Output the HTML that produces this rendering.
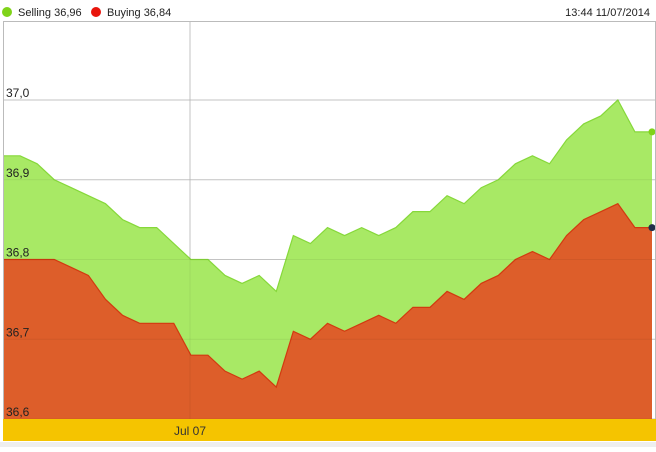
<!DOCTYPE html>
<html><head><meta charset="utf-8"><style>
body{margin:0;background:#fff;font-family:"Liberation Sans",sans-serif;}
svg text{font-family:"Liberation Sans",sans-serif;}
</style></head><body>
<svg id="chart" width="656" height="447" viewBox="0 0 656 447" xmlns="http://www.w3.org/2000/svg">
<rect x="0" y="0" width="656" height="447" fill="#fff"/>
<g>
<circle cx="7" cy="12" r="5" fill="#7fd319"/>
<text x="18" y="16" font-size="11" fill="#222">Selling 36,96</text>
<circle cx="96" cy="12" r="5" fill="#e8150c"/>
<text x="107" y="16" font-size="11" fill="#222">Buying 36,84</text>
<text x="650" y="16" font-size="11" fill="#222" text-anchor="end">13:44 11/07/2014</text>
</g>
<g id="grid"></g>
<g id="series"></g>
<g id="overgrid"></g>
<g id="labels"></g>
<rect x="3.5" y="21.5" width="652" height="398" fill="none" stroke="#bbb"/>
<rect x="3" y="419" width="653" height="22" fill="#f5c400"/>
<rect x="0" y="442" width="656" height="5" fill="#eee"/>
<text x="190" y="435" font-size="12" fill="#333" text-anchor="middle">Jul 07</text>
</svg>
<script>
const selling=[36.93,36.93,36.92,36.90,36.89,36.88,36.87,36.85,36.84,36.84,36.82,36.80,36.80,36.78,36.77,36.78,36.76,36.83,36.82,36.84,36.83,36.84,36.83,36.84,36.86,36.86,36.88,36.87,36.89,36.90,36.92,36.93,36.92,36.95,36.97,36.98,37.00,36.96,36.96];
const buying=[36.80,36.80,36.80,36.80,36.79,36.78,36.75,36.73,36.72,36.72,36.72,36.68,36.68,36.66,36.65,36.66,36.64,36.71,36.70,36.72,36.71,36.72,36.73,36.72,36.74,36.74,36.76,36.75,36.77,36.78,36.80,36.81,36.80,36.83,36.85,36.86,36.87,36.84,36.84];
const yTicks=[37.0,36.9,36.8,36.7,36.6];
const yTickLabels=["37,0","36,9","36,8","36,7","36,6"];
const xTickIndex=11;
const NS="http://www.w3.org/2000/svg";
const x0=3,x1=652,yTop=100,vTop=37.0,pxPer=797.5,yBase=419;
const xs=i=>x0+(x1-x0)*i/(selling.length-1);
const ys=v=>yTop+(vTop-v)*pxPer;
function mk(t,a,p){const e=document.createElementNS(NS,t);for(const k in a)e.setAttribute(k,a[k]);document.getElementById(p).appendChild(e);return e;}
yTicks.forEach((v,i)=>{
 const l=mk('line',{x1:3,x2:656,y1:ys(v),y2:ys(v),stroke:'#d0d0d0','stroke-width':1},'grid');
 
 
 const l2=mk('line',{x1:3,x2:656,y1:ys(v),y2:ys(v),stroke:'rgba(0,0,0,0.06)','stroke-width':1},'overgrid');
 
 
 const t=mk('text',{x:6,y:ys(v)-3,'font-size':12,fill:'#222'},'labels');
 t.textContent=yTickLabels[i];
 
 
});
const vl=mk('line',{x1:190,x2:190,y1:21,y2:419,stroke:'#d0d0d0'},'grid');


const vl2=mk('line',{x1:190,x2:190,y1:21,y2:419,stroke:'rgba(0,0,0,0.06)'},'overgrid');


function area(arr,fill,stroke,name){
 let d='M'+xs(0)+','+yBase;
 arr.forEach((v,i)=>{d+=' L'+xs(i)+','+ys(v);});
 d+=' L'+xs(arr.length-1)+','+yBase+' Z';
 const p=mk('path',{d:d,fill:fill},'series');
 
 
 const pts=arr.map((v,i)=>xs(i)+','+ys(v)).join(' ');
 const l=mk('polyline',{points:pts,fill:'none',stroke:stroke,'stroke-width':1.2},'series');
 
 
}
area(selling,'#a8e965','#86d83a','selling');
area(buying,'#dd5e2a','#d23a10','buying');
const d1=mk('circle',{cx:xs(selling.length-1),cy:ys(selling[selling.length-1]),r:3.5,fill:'#7fd319'},'series');


const d2=mk('circle',{cx:xs(buying.length-1),cy:ys(buying[buying.length-1]),r:3.5,fill:'#1f2f4a'},'series');


</script>
</body></html>
